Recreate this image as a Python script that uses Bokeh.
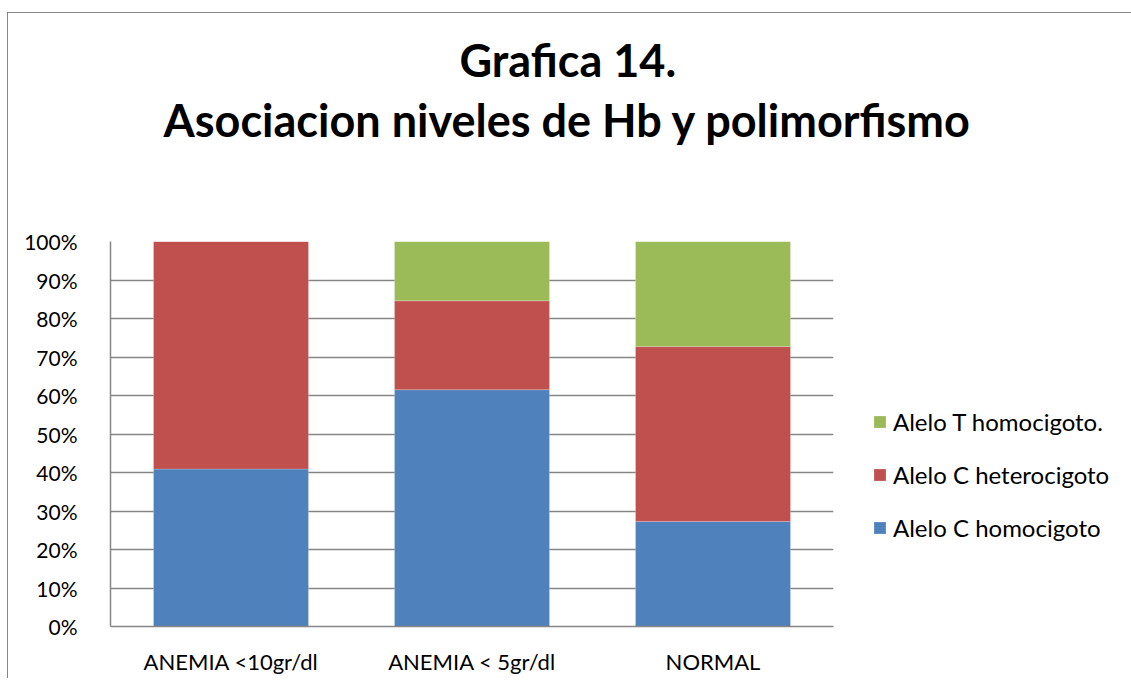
from bokeh.plotting import figure
from bokeh.models import (ColumnDataSource, FactorRange, Range1d, FixedTicker,
                          NumeralTickFormatter, Legend, LegendItem, Title)
from bokeh.embed import file_html
from bokeh.resources import INLINE

categories = ["ANEMIA <10gr/dl", "ANEMIA < 5gr/dl", "NORMAL"]
series_names = ["Alelo C homocigoto", "Alelo C heterocigoto", "Alelo T homocigoto."]
c_homo = [0.409, 0.615, 0.273]
c_het = [0.591, 0.231, 0.454]
t_homo = [0.0, 0.154, 0.273]
colors = ["#4F81BD", "#C0504D", "#9BBB59"]
y_ticks = [0.0, 0.1, 0.2, 0.3, 0.4, 0.5, 0.6, 0.7, 0.8, 0.9, 1.0]
title_lines = ["Grafica 14.", "Asociacion niveles de Hb y polimorfismo"]

FONT = "Lato"
GRID = "#868686"

source = ColumnDataSource(dict(cat=categories, s0=c_homo, s1=c_het, s2=t_homo))

p = figure(x_range=FactorRange(factors=categories, range_padding=0),
           y_range=Range1d(0, 1),
           width=1120, height=665,
           frame_width=723, frame_height=385,
           min_border_left=102, min_border_right=295,
           min_border_top=228, min_border_bottom=52,
           output_backend="svg", toolbar_location=None)
p.styles = {"margin-left": "7px", "margin-top": "12px",
            "border-left": "1px solid #868686", "border-top": "1px solid #868686"}

renderers = p.vbar_stack(["s0", "s1", "s2"], x="cat", width=0.643, color=colors,
                         line_color="white", line_width=0.5, line_alpha=0.4, source=source)

items = [LegendItem(label=series_names[i], renderers=[renderers[i]]) for i in (2, 1, 0)]
legend = Legend(items=items, location=(39, 84), padding=0, margin=0,
                border_line_color=None, background_fill_alpha=0,
                glyph_width=15, glyph_height=15, label_standoff=6,
                label_height=24, spacing=24,
                label_text_font=FONT, label_text_font_size="24px",
                label_text_color="black")
p.add_layout(legend, "right")

# titles: first added sits closest to the frame
p.add_layout(Title(text=" ", text_font=FONT, text_font_size="76px", standoff=0), "above")
p.add_layout(Title(text=title_lines[1], align="left", offset=53, standoff=4,
                   text_font=FONT, text_font_style="bold", text_font_size="45px",
                   text_color="black"), "above")
p.add_layout(Title(text=title_lines[0], align="left", offset=349, standoff=4,
                   text_font=FONT, text_font_style="bold", text_font_size="45px",
                   text_color="black"), "above")

p.outline_line_color = None
p.xgrid.grid_line_color = None
p.ygrid.grid_line_color = GRID
p.ygrid.grid_line_width = 1.5
p.ygrid.ticker = FixedTicker(ticks=y_ticks)

p.yaxis.ticker = FixedTicker(ticks=y_ticks)
p.yaxis.formatter = NumeralTickFormatter(format="0%")
p.yaxis.major_tick_line_color = None
p.yaxis.minor_tick_line_color = None
p.yaxis.major_label_standoff = 27
p.yaxis.axis_line_color = GRID
p.yaxis.axis_line_width = 1.5
p.yaxis.major_label_text_font = FONT
p.yaxis.major_label_text_font_size = "21px"
p.yaxis.major_label_text_color = "black"

p.xaxis.major_tick_line_color = None
p.xaxis.minor_tick_line_color = None
p.xaxis.axis_line_color = GRID
p.xaxis.axis_line_width = 1.5
p.xaxis.major_label_standoff = 15
p.xaxis.major_label_text_font = FONT
p.xaxis.major_label_text_font_size = "22px"
p.xaxis.major_label_text_color = "black"

open("out.html", "w").write(file_html(p, INLINE))
